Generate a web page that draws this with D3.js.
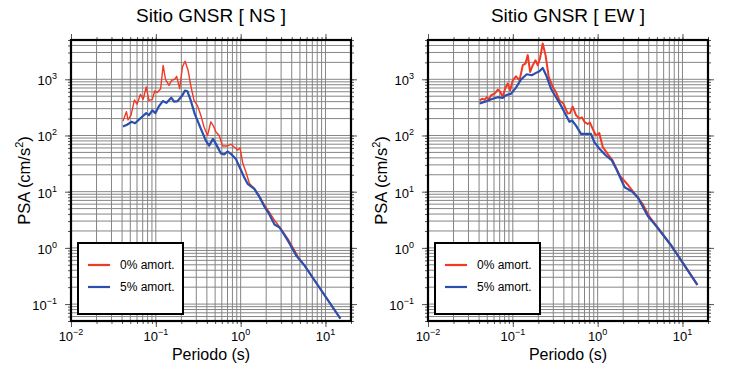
<!DOCTYPE html>
<html>
<head>
<meta charset="utf-8">
<script src="https://cdn.jsdelivr.net/npm/d3@7"></script>
<style>
  body { margin: 0; background: #fff; }
  svg { font-family: "Liberation Sans", Arial, sans-serif; }
</style>
</head>
<body>
<svg id="chart" width="746" height="388"></svg>
<script>
// period (s), PSA (cm/s2)
const nsDamp0 = [[0.041,180],[0.045,265],[0.047,190],[0.051,230],[0.056,430],[0.060,360],[0.066,540],[0.071,440],[0.077,730],[0.083,420],[0.091,440],[0.097,620],[0.104,580],[0.114,680],[0.122,1770],[0.130,1000],[0.143,780],[0.154,960],[0.167,1000],[0.176,1130],[0.191,680],[0.206,1660],[0.221,2100],[0.240,1450],[0.258,780],[0.282,420],[0.310,340],[0.339,230],[0.371,140],[0.407,100],[0.445,175],[0.475,150],[0.511,115],[0.559,100],[0.613,65],[0.703,65],[0.769,70],[0.842,62],[0.924,55],[0.984,60],[1.06,32],[1.16,22],[1.27,14],[1.45,11.4],[1.67,8.3],[1.91,5.8],[2.19,4.3],[2.51,3.1],[2.88,2.35],[3.15,1.95],[3.62,1.45],[4.76,0.7],[5.7,0.48],[15,0.055]];
const nsDamp5 = [[0.041,145],[0.0457,155],[0.0516,175],[0.057,165],[0.063,190],[0.069,215],[0.077,250],[0.083,230],[0.091,280],[0.099,250],[0.108,325],[0.121,410],[0.133,380],[0.152,470],[0.164,400],[0.181,410],[0.206,520],[0.221,630],[0.236,610],[0.258,420],[0.287,245],[0.339,132],[0.389,81],[0.425,66],[0.473,87],[0.524,66],[0.585,48],[0.64,46],[0.70,52],[0.78,46],[0.88,38],[1.01,24],[1.10,18],[1.21,13.8],[1.45,11.2],[1.67,8],[1.91,5.4],[2.19,3.9],[2.51,2.6],[2.88,2.3],[3.15,1.87],[3.62,1.33],[4.55,0.72],[5.7,0.48],[15,0.055]];

const ewDamp0 = [[0.0405,420],[0.0436,450],[0.0465,430],[0.0494,480],[0.0522,440],[0.0556,520],[0.061,555],[0.0667,655],[0.071,600],[0.076,480],[0.081,680],[0.087,840],[0.093,635],[0.1,960],[0.109,1130],[0.12,960],[0.131,1780],[0.141,1900],[0.150,2690],[0.160,1350],[0.172,1780],[0.185,2180],[0.197,1780],[0.209,2340],[0.225,4340],[0.243,2690],[0.265,1100],[0.296,730],[0.323,590],[0.354,420],[0.395,370],[0.444,245],[0.472,250],[0.508,325],[0.556,230],[0.609,200],[0.653,210],[0.698,175],[0.763,160],[0.811,170],[0.873,132],[0.955,100],[1.047,110],[1.15,62],[1.31,47],[1.5,36],[1.82,19.3],[2.2,14],[2.85,8.5],[3.38,6.1],[4.07,3.6],[4.9,2.5],[7.4,1.1],[15,0.22]];
const ewDamp5 = [[0.0405,370],[0.0485,405],[0.058,450],[0.0667,480],[0.076,465],[0.083,520],[0.0955,555],[0.109,710],[0.125,990],[0.146,1230],[0.167,1180],[0.188,1300],[0.206,1390],[0.225,1590],[0.247,1180],[0.282,680],[0.323,480],[0.37,340],[0.424,230],[0.465,175],[0.499,185],[0.556,150],[0.637,107],[0.728,107],[0.834,107],[0.914,76],[1.05,58],[1.25,44],[1.47,36],[1.66,25.4],[2.08,12],[2.6,9.8],[2.98,7.9],[3.9,3.7],[4.9,2.45],[7.4,1.09],[15,0.22]];

const titles = ["Sitio GNSR [ NS ]", "Sitio GNSR [ EW ]"];
const legendLabels = ["0% amort.", "5% amort."];
const xMajor = [0.01, 0.1, 1, 10];
const yMajor = [0.1, 1, 10, 100, 1000];
const supers = {"-2": "\u22122", "-1": "\u22121", "0": "0", "1": "1", "2": "2", "3": "3"};

const svg = d3.select("#chart");
const red = "#f03a24", blue = "#2b4fae";

function minors(lo, hi) {
  const out = [];
  for (let e = -3; e <= 4; e++) {
    for (let m = 1; m <= 9; m++) {
      const v = m * Math.pow(10, e);
      if (v >= lo * 0.999 && v <= hi * 1.001) out.push(+v.toPrecision(3));
    }
  }
  return out;
}

function drawPanel(left, title, d0, d5, redWidth) {
  const top = 40, w = 280, h = 281;
  const x = d3.scaleLog().domain([0.01, 20]).range([0, w]);
  const y = d3.scaleLog().domain([0.05, 5000]).range([h, 0]);
  const g = svg.append("g").attr("transform", `translate(${left},${top})`);

  const xm = minors(0.01, 20), ym = minors(0.05, 5000);

  // grid
  g.append("g").selectAll("line").data(xm).enter().append("line")
    .attr("x1", d => x(d)).attr("x2", d => x(d)).attr("y1", 0).attr("y2", h)
    .attr("stroke", "#858585").attr("stroke-width", 1);
  g.append("g").selectAll("line").data(ym).enter().append("line")
    .attr("y1", d => y(d)).attr("y2", d => y(d)).attr("x1", 0).attr("x2", w)
    .attr("stroke", "#858585").attr("stroke-width", 1);

  // ticks all round, minor then major
  const tickStyle = sel => { sel.select(".domain").remove(); sel.selectAll("line").attr("stroke", "#555"); sel.selectAll("text").remove(); };
  g.append("g").attr("transform", `translate(0,${h})`).call(d3.axisBottom(x).tickValues(xm).tickSize(3)).call(tickStyle);
  g.append("g").call(d3.axisTop(x).tickValues(xm).tickSize(3)).call(tickStyle);
  g.append("g").call(d3.axisLeft(y).tickValues(ym).tickSize(3)).call(tickStyle);
  g.append("g").attr("transform", `translate(${w},0)`).call(d3.axisRight(y).tickValues(ym).tickSize(3)).call(tickStyle);
  g.append("g").attr("transform", `translate(0,${h})`).call(d3.axisBottom(x).tickValues(xMajor).tickSize(6)).call(tickStyle);
  g.append("g").call(d3.axisTop(x).tickValues(xMajor).tickSize(6)).call(tickStyle);
  g.append("g").call(d3.axisLeft(y).tickValues(yMajor).tickSize(6)).call(tickStyle);
  g.append("g").attr("transform", `translate(${w},0)`).call(d3.axisRight(y).tickValues(yMajor).tickSize(6)).call(tickStyle);

  // tick labels as 10^n
  xMajor.forEach(v => {
    const t = g.append("text").attr("x", x(v)).attr("y", h + 20).attr("text-anchor", "middle").attr("font-size", 13);
    t.append("tspan").text("10");
    t.append("tspan").attr("dy", -6).attr("font-size", 9).text(supers[Math.round(Math.log10(v))]);
  });
  yMajor.forEach(v => {
    const t = g.append("text").attr("x", -14).attr("y", y(v) + 6).attr("text-anchor", "end").attr("font-size", 13);
    t.append("tspan").text("10");
    t.append("tspan").attr("dy", -6).attr("font-size", 9).text(supers[Math.round(Math.log10(v))]);
  });

  // curves
  const line = d3.line().x(d => x(d[0])).y(d => y(d[1]));
  g.append("path").datum(d0).attr("d", line).attr("fill", "none")
    .attr("stroke", red).attr("stroke-width", redWidth).attr("stroke-linejoin", "round");
  g.append("path").datum(d5).attr("d", line).attr("fill", "none")
    .attr("stroke", blue).attr("stroke-width", 2.2).attr("stroke-linejoin", "round");

  // frame
  g.append("rect").attr("width", w).attr("height", h).attr("fill", "none")
    .attr("stroke", "#000").attr("stroke-width", 2.2);

  // titles and axis labels
  g.append("text").attr("x", w / 2).attr("y", -18).attr("text-anchor", "middle")
    .attr("font-size", 19).text(title);
  g.append("text").attr("x", w / 2).attr("y", h + 39).attr("text-anchor", "middle")
    .attr("font-size", 16).text("Periodo (s)");
  const yl = g.append("text").attr("transform", `translate(-41,${h / 2}) rotate(-90)`)
    .attr("text-anchor", "middle").attr("font-size", 16.5);
  yl.append("tspan").text("PSA (cm/s");
  yl.append("tspan").attr("dy", -7).attr("font-size", 11).text("2");
  yl.append("tspan").attr("dy", 7).text(")");

  // legend
  const lg = g.append("g").attr("transform", "translate(7,203)");
  lg.append("rect").attr("width", 105).attr("height", 71).attr("fill", "#fff")
    .attr("stroke", "#000").attr("stroke-width", 2);
  [[red, legendLabels[0]], [blue, legendLabels[1]]].forEach((it, i) => {
    const yy = 22 + i * 22;
    lg.append("line").attr("x1", 10).attr("x2", 32).attr("y1", yy).attr("y2", yy)
      .attr("stroke", it[0]).attr("stroke-width", 2.2);
    lg.append("text").attr("x", 42).attr("y", yy + 4).attr("font-size", 12).text(it[1]);
  });
}

drawPanel(71, titles[0], nsDamp0, nsDamp5, 1.4);
drawPanel(428, titles[1], ewDamp0, ewDamp5, 2);
</script>
</body>
</html>
